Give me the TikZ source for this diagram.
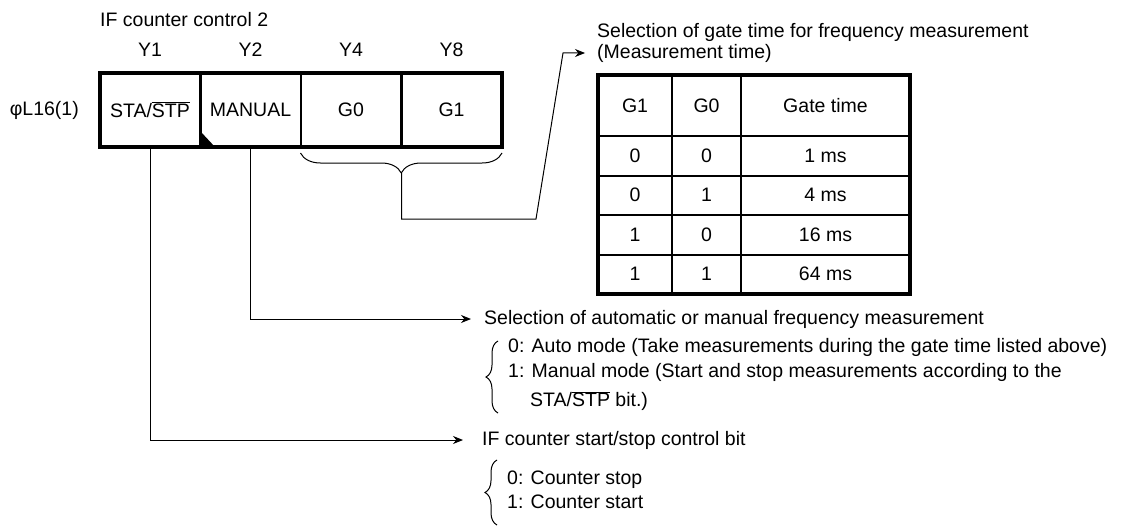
\documentclass[tikz,border=0pt]{standalone}
\usepackage{fontspec}
\setmainfont{Liberation Sans}
\usetikzlibrary{arrows.meta,positioning,calc,decorations.pathreplacing}
\newcommand{\stpbar}{STA/$\overline{\hbox{STP}}$}

\begin{document}
\begin{tikzpicture}[
    x=1pt, y=-1pt, font=\fontsize{19.5}{23}\selectfont,
    txt/.style={anchor=west, inner sep=0pt},
    bitcell/.style={draw, line width=2pt, outer sep=0pt, inner sep=0pt, minimum width=101pt, minimum height=74pt},
    cell/.style={draw, line width=2pt, outer sep=0pt, inner sep=0pt, minimum height=39.5pt},
    outer/.style={line width=4pt},
    link/.style={-{Stealth[length=10pt, width=8pt]}, line width=1pt},
    grp/.style={decorate, decoration={brace, amplitude=#1}, line width=1pt},
    grp/.default=12pt,
  ]
  \useasboundingbox (0,0) rectangle (1129,527);

  \node[txt] (regtitle) at (100,20) {IF counter control 2};
  \node[anchor=east, inner sep=0pt] (regname) at (79,110) {φL16(1)};
  \foreach \x/\n/\t in {150/sta/\stpbar, 250.5/manual/MANUAL, 351/gzero/G0, 451.5/gone/G1}
    \node[bitcell] (\n) at (\x,110) {\t};
  \foreach \n/\t in {sta/Y1, manual/Y2, gzero/Y4, gone/Y8}
    \node (y\n) at (\n |- 0,50) {\t};
  \draw[outer] (sta.north west) rectangle (gone.south east);
  \fill ($(manual.south west)+(1,-15)$) -- ($(manual.south west)+(1,0)$) -- ($(manual.south west)+(15,0)$) -- cycle;

  \draw[grp=20pt] ($(gone.south east)+(0,6)$) -- ($(gzero.south west)+(0,6)$);
  \coordinate (gtip) at ($(gzero.south east)+(0,26)$);

  \node[txt] (gatetitle) at (597,32) {Selection of gate time for frequency measurement};
  \node[txt] (gatesub) at (597,53) {(Measurement time)};
  \draw[link, shorten >=12pt] (gtip) |- (536,219) -- (563,53) -- (gatesub.west);

  \node[cell, minimum width=74pt, minimum height=61pt] (hone) at (635,105.5) {G1};
  \node[cell, minimum width=69pt, minimum height=61pt] (hzero) at (706.5,105.5) {G0};
  \node[cell, minimum width=169pt, minimum height=61pt] (htime) at (825.5,105.5) {Gate time};
  \foreach \r/\y/\a/\b/\t in {1/155.75/0/0/1 ms, 2/195.25/0/1/4 ms, 3/234.75/1/0/16 ms, 4/274.25/1/1/64 ms} {
    \node[cell, minimum width=74pt] (one\r) at (635,\y) {\a};
    \node[cell, minimum width=69pt] (zero\r) at (706.5,\y) {\b};
    \node[cell, minimum width=169pt] (time\r) at (825.5,\y) {\t};
  }
  \draw[outer] (hone.north west) rectangle (time4.south east);

  \node[txt] (autosel) at (484,319) {Selection of automatic or manual frequency measurement};
  \node[txt] (autozero) at (508,347) {0: Auto mode (Take measurements during the gate time listed above)};
  \node[txt] (autoone) at (508,372) {1: Manual mode (Start and stop measurements according to the};
  \node[txt] (autobit) at (530,401) {\stpbar{} bit.)};
  \draw[grp] (498,413) -- (498,341);
  \draw[link, shorten >=13pt] (manual.south) |- (autosel.west);

  \node[txt] (startbit) at (482,440) {IF counter start/stop control bit};
  \node[txt] (startzero) at (507,480) {0: Counter stop};
  \node[txt] (startone) at (507,502) {1: Counter start};
  \draw[grp] (497,525) -- (497,460);
  \draw[link, shorten >=19pt] (sta.south) |- (startbit.west);
\end{tikzpicture}
\end{document}
